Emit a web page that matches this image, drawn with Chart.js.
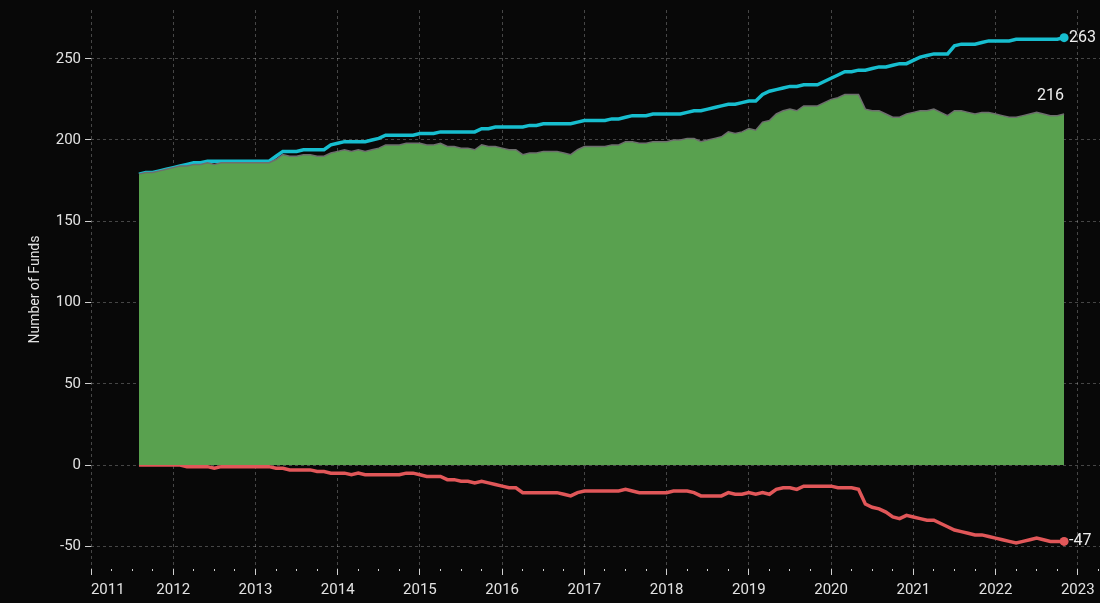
<!DOCTYPE html>
<html>
<head>
<meta charset="utf-8">
<script src="https://cdn.jsdelivr.net/npm/chart.js@4.4.0/dist/chart.umd.min.js"></script>
<style>
html, body { margin: 0; padding: 0; background: #080808; }
</style>
</head>
<body>
<canvas id="funds-chart" width="1100" height="603"></canvas>
<script>
// monthly series, Aug 2011 .. Nov 2022
var startYear = 2011;
var startMonth = 8;

var launchedFunds = [179,180,180,181,182,183,184,185,186,186,
  187,187,187,187,187,187,187,187,187,187,
  190,193,193,193,194,194,194,194,197,198,
  199,199,199,199,200,201,203,203,203,203,
  203,204,204,204,205,205,205,205,205,205,
  207,207,208,208,208,208,208,209,209,210,
  210,210,210,210,211,212,212,212,212,213,
  213,214,215,215,215,216,216,216,216,216,
  217,218,218,219,220,221,222,222,223,224,
  224,228,230,231,232,233,233,234,234,234,
  236,238,240,242,242,243,243,244,245,245,
  246,247,247,249,251,252,253,253,253,258,
  259,259,259,260,261,261,261,261,262,262,
  262,262,262,262,262,263];

var closedFunds = [0,0,0,0,0,0,0,-1,-1,-1,
  -1,-2,-1,-1,-1,-1,-1,-1,-1,-1,
  -2,-2,-3,-3,-3,-3,-4,-4,-5,-5,
  -5,-6,-5,-6,-6,-6,-6,-6,-6,-5,
  -5,-6,-7,-7,-7,-9,-9,-10,-10,-11,
  -10,-11,-12,-13,-14,-14,-17,-17,-17,-17,
  -17,-17,-18,-19,-17,-16,-16,-16,-16,-16,
  -16,-15,-16,-17,-17,-17,-17,-17,-16,-16,
  -16,-17,-19,-19,-19,-19,-17,-18,-18,-17,
  -18,-17,-18,-15,-14,-14,-15,-13,-13,-13,
  -13,-13,-14,-14,-14,-15,-24,-26,-27,-29,
  -32,-33,-31,-32,-33,-34,-34,-36,-38,-40,
  -41,-42,-43,-43,-44,-45,-46,-47,-48,-47,
  -46,-45,-46,-47,-47,-47];

var netFunds = [179,180,180,181,182,183,184,184,185,185,
  186,185,186,186,186,186,186,186,186,186,
  188,191,190,190,191,191,190,190,192,193,
  194,193,194,193,194,195,197,197,197,198,
  198,198,197,197,198,196,196,195,195,194,
  197,196,196,195,194,194,191,192,192,193,
  193,193,192,191,194,196,196,196,196,197,
  197,199,199,198,198,199,199,199,200,200,
  201,201,199,200,201,202,205,204,205,207,
  206,211,212,216,218,219,218,221,221,221,
  223,225,226,228,228,228,219,218,218,216,
  214,214,216,217,218,218,219,217,215,218,
  218,217,216,217,217,216,215,214,214,215,
  216,217,216,215,215,216];

var yTicks = [-50, 0, 50, 100, 150, 200, 250];

// decimal year for each month
var months = launchedFunds.map(function (_, i) {
  return startYear + (startMonth - 1 + i) / 12;
});
function pts(arr) {
  return arr.map(function (v, i) { return { x: months[i], y: v }; });
}

var last = launchedFunds.length - 1;
var gridColor = 'rgba(255,255,255,0.25)';
var textColor = '#e2e2e2';
var fontFamily = "Roboto, 'DejaVu Sans', sans-serif";

var endLabels = {
  id: 'endLabels',
  afterDatasetsDraw: function (chart) {
    var c = chart.ctx;
    c.save();
    c.font = '16px ' + fontFamily;
    c.fillStyle = '#eeeeee';
    c.textBaseline = 'middle';
    // launched / closed: right of the end dot
    [1, 2].forEach(function (di) {
      var p = chart.getDatasetMeta(di).data[last];
      c.textAlign = 'left';
      c.fillText(String(chart.data.datasets[di].data[last].y), p.x + 5, p.y);
    });
    // net: above the end of the area
    var n = chart.getDatasetMeta(0).data[last];
    c.textAlign = 'right';
    c.fillText(String(netFunds[last]), n.x, n.y - 18);
    c.restore();
  }
};

var ctx = document.getElementById('funds-chart');

new Chart(ctx, {
  type: 'line',
  data: {
    datasets: [{
      label: 'Net',
      data: pts(netFunds),
      borderColor: '#6e6e6e',
      borderWidth: 1.5,
      backgroundColor: '#59a14f',
      fill: 'origin',
      pointRadius: 0,
      tension: 0,
      order: 0
    }, {
      label: 'Launched',
      data: pts(launchedFunds),
      borderColor: '#17becf',
      borderWidth: 3.5,
      fill: false,
      pointRadius: function (c) { return c.dataIndex === last ? 4.5 : 0; },
      pointBackgroundColor: '#17becf',
      pointBorderWidth: 0,
      tension: 0,
      order: 1
    }, {
      label: 'Closed',
      data: pts(closedFunds),
      borderColor: '#e15759',
      borderWidth: 3.5,
      fill: false,
      pointRadius: function (c) { return c.dataIndex === last ? 4.5 : 0; },
      pointBackgroundColor: '#e15759',
      pointBorderWidth: 0,
      tension: 0,
      order: 1
    }]
  },
  options: {
    responsive: false,
    animation: false,
    layout: { autoPadding: false, padding: { top: 10, right: 0, left: 0, bottom: 0 } },
    plugins: {
      legend: { display: false },
      tooltip: { enabled: false }
    },
    scales: {
      x: {
        type: 'linear',
        min: 2011,
        max: 2023.27,
        afterFit: function (s) {
          s.height = 34;
          s.paddingLeft = 0;
          s.paddingRight = 0;
        },
        border: { display: false, dash: [3, 3] },
        grid: {
          color: function (c) { return Number.isInteger(c.tick.value) ? gridColor : 'rgba(0,0,0,0)'; },
          tickColor: '#d0d0d0',
          tickLength: 6,
          tickWidth: 1,
          tickBorderDash: function (c) { return Number.isInteger(c.tick.value) ? [] : [2, 20]; }
        },
        ticks: {
          stepSize: 0.25,
          autoSkip: false,
          includeBounds: false,
          maxRotation: 0,
          padding: 6,
          color: textColor,
          font: { family: fontFamily, size: 15 },
          callback: function (value) {
            if (!Number.isInteger(value)) return '';
            // first label sits inside the axis
            return value === 2011 ? '         2011' : String(value);
          }
        }
      },
      y: {
        min: -64,
        max: 280,
        afterFit: function (s) {
          s.width = 91;
          s.paddingTop = 0;
          s.paddingBottom = 0;
        },
        afterBuildTicks: function (s) {
          s.ticks = yTicks.map(function (v) { return { value: v }; });
        },
        border: { display: false, dash: [3, 3] },
        grid: {
          color: gridColor,
          tickColor: '#d0d0d0',
          tickLength: 6,
          tickWidth: 1,
          tickBorderDash: []
        },
        ticks: {
          padding: 4,
          color: textColor,
          font: { family: fontFamily, size: 15 }
        },
        title: {
          display: true,
          text: 'Number of Funds',
          color: textColor,
          font: { family: fontFamily, size: 14 },
          padding: { top: 27, bottom: 0 }
        }
      }
    }
  },
  plugins: [endLabels]
});
</script>
</body>
</html>
